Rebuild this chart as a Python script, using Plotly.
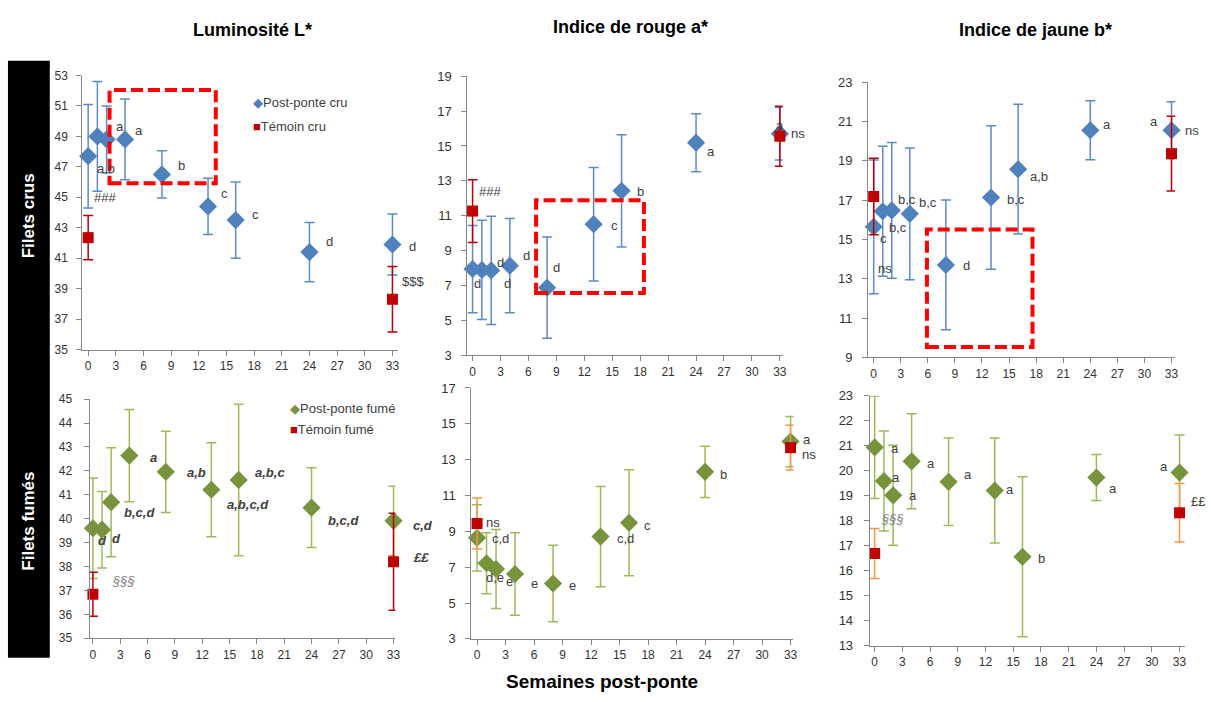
import plotly.graph_objects as go

W, H = 1211, 702

# ---------------- data ----------------
weeks = [0, 1, 2, 4, 8, 13, 16, 24, 33]
ctrl_weeks = [0, 33]
x_ticks = [0, 3, 6, 9, 12, 15, 18, 21, 24, 27, 30, 33]

# Filets crus
L_cru = [47.7, 49.0, 48.8, 48.8, 46.5, 44.4, 43.5, 41.4, 41.9]
L_cru_err = [3.4, 3.6, 2.2, 2.65, 1.55, 1.85, 2.5, 1.95, 2.0]
L_cru_ctrl = [42.35, 38.3]
L_cru_ctrl_err = [1.45, 2.15]

a_cru = [7.95, 7.9, 7.87, 8.14, 6.88, 10.52, 12.43, 15.19, 15.7]
a_cru_err = [2.5, 2.85, 3.1, 2.7, 2.9, 3.25, 3.22, 1.66, 1.5]
a_cru_ctrl = [11.27, 15.56]
a_cru_ctrl_err = [1.8, 1.72]

b_cru = [15.64, 16.43, 16.47, 16.3, 13.7, 17.13, 18.57, 20.55, 20.55]
b_cru_err = [3.4, 3.3, 3.45, 3.35, 3.3, 3.65, 3.3, 1.5, 1.45]
b_cru_ctrl = [17.18, 19.36]
b_cru_ctrl_err = [1.95, 1.9]

# Filets fumés
L_fume = [39.6, 39.54, 40.69, 42.64, 41.96, 41.21, 41.62, 40.46, 39.91]
L_fume_err = [2.1, 1.6, 2.28, 1.93, 1.7, 1.97, 3.17, 1.67, 1.45]
L_fume_ctrl = [36.84, 38.2]
L_fume_ctrl_err = [0.92, 2.03]

a_fume = [8.64, 7.22, 6.9, 6.62, 6.09, 8.71, 9.48, 12.32, 14.01]
a_fume_err = [1.85, 1.7, 2.2, 2.3, 2.13, 2.8, 2.96, 1.43, 1.4]
a_fume_ctrl = [9.44, 13.67]
a_fume_ctrl_err = [1.42, 1.25]

b_fume = [20.94, 19.59, 19.02, 20.38, 19.56, 19.21, 16.56, 19.73, 19.93]
b_fume_err = [2.05, 2.0, 2.0, 1.9, 1.75, 2.1, 3.2, 0.92, 1.5]
b_fume_ctrl = [16.69, 18.32]
b_fume_ctrl_err = [1.0, 1.17]

# significance letters (text, week, value)
lab_L_cru = [("a,b", 1.97, 46.9), ("a", 3.4, 49.68), ("a", 5.49, 49.4), ("b", 10.17, 47.1),
             ("c", 14.74, 45.22), ("c", 18.1, 43.9), ("d", 26.16, 42.07), ("d", 35.15, 41.8),
             ("###", 1.8, 44.97), ("$$$", 35.26, 39.5)]
lab_a_cru = [("###", 1.9, 12.4), ("d", 0.5, 7.1), ("d", 3.0, 8.34), ("d", 3.7, 7.1),
             ("d", 5.83, 8.75), ("d", 8.96, 8.04), ("c", 15.2, 10.43), ("b", 18.05, 12.4),
             ("a", 33.0, 16.2), ("a", 25.6, 14.67), ("ns", 34.9, 15.7)]
lab_b_cru = [("c", 1.04, 15.06), ("ns", 1.2, 13.5), ("b,c", 2.7, 15.6), ("b,c", 3.7, 17.04),
             ("b,c", 6.0, 16.9), ("d", 10.24, 13.65), ("b,c", 15.77, 17.04), ("a,b", 18.28, 18.2),
             ("a", 25.9, 20.85), ("a", 31.05, 21.0), ("ns", 35.3, 20.55)]
lab_L_fume = [("d", 1.1, 39.09), ("d", 2.56, 39.16), ("b,c,d", 5.06, 40.25), ("a", 6.6, 42.57),
              ("a,b", 11.36, 41.92), ("a,b,c,d", 17.05, 40.6), ("a,b,c", 19.4, 41.92),
              ("b,c,d", 27.5, 39.94), ("c,d", 36.2, 39.7), ("££", 36.0, 38.37), ("§§§", 3.4, 37.43)]
lab_a_fume = [("ns", 1.7, 9.5), ("c,d", 2.5, 8.62), ("d,e", 1.85, 6.4), ("e", 3.43, 6.22),
              ("e", 6.05, 6.08), ("e", 10.06, 5.98), ("c,d", 15.64, 8.59), ("c", 17.9, 9.32),
              ("b", 25.95, 12.17), ("a", 34.7, 14.1), ("ns", 34.96, 13.3)]
lab_b_fume = [("a", 2.16, 20.91), ("a", 2.34, 19.73), ("a", 4.15, 19.02), ("a", 6.12, 20.31),
              ("§§§", 1.9, 18.1), ("a", 10.15, 19.85), ("a", 14.65, 19.24), ("b", 18.1, 16.5),
              ("a", 25.75, 19.28), ("a", 31.3, 20.18), ("££", 35.0, 18.78)]

# highlighted windows (weeks, value)
box_L = (2.32, 13.84, 45.93, 52.04)
box_a = (6.82, 18.4, 6.57, 11.89)
box_b = (5.9, 17.6, 9.52, 15.5)

# ---------------- styling / layout ----------------
BLUE, BLUE_E = "#4F81BD", "#5B8CC8"
GREEN, GREEN_E = "#77933C", "#9BBB59"
RED = "#C00000"
ORANGE = "#F79646"
AXC = "#868686"
TXT = "#404040"
FONT = "Liberation Sans, Arial, sans-serif"

panels = [
    dict(px=(82.7, 400), py=(70, 350), xr=(-0.63, 33.64), yr=(35, 53), dt=2,
         s=L_cru, se=L_cru_err, c=L_cru_ctrl, ce=L_cru_ctrl_err, mc=BLUE, ec=BLUE_E, cec=RED,
         labs=lab_L_cru, italic=False, box=box_L, standoff=6, yfs=12),
    dict(px=(469.3, 785.9), py=(70.7, 356), xr=(-0.56, 33.3), yr=(3, 19), dt=2,
         s=a_cru, se=a_cru_err, c=a_cru_ctrl, ce=a_cru_ctrl_err, mc=BLUE, ec=BLUE_E, cec=RED,
         labs=lab_a_cru, italic=False, box=box_a, standoff=7, yfs=13),
    dict(px=(871.7, 1180), py=(76.7, 358), xr=(-0.62, 33.4), yr=(9, 23), dt=2,
         s=b_cru, se=b_cru_err, c=b_cru_ctrl, ce=b_cru_ctrl_err, mc=BLUE, ec=BLUE_E, cec=RED,
         labs=lab_b_cru, italic=False, box=box_b, standoff=7, yfs=13),
    dict(px=(90, 397), py=(400.7, 645), xr=(-0.36, 33.2), yr=(35, 45), dt=1,
         s=L_fume, se=L_fume_err, c=L_fume_ctrl, ce=L_fume_ctrl_err, mc=GREEN, ec=GREEN_E, cec=RED,
         labs=lab_L_fume, italic=True, box=None, standoff=9, yfs=12),
    dict(px=(473.3, 796.7), py=(389.3, 645.7), xr=(-0.6, 33.3), yr=(3, 17), dt=2,
         s=a_fume, se=a_fume_err, c=a_fume_ctrl, ce=a_fume_ctrl_err, mc=GREEN, ec=GREEN_E, cec=ORANGE,
         labs=lab_a_fume, italic=False, box=None, standoff=7, yfs=13),
    dict(px=(873.3, 1190), py=(397.3, 652.7), xr=(-0.54, 33.6), yr=(13, 23), dt=1,
         s=b_fume, se=b_fume_err, c=b_fume_ctrl, ce=b_fume_ctrl_err, mc=GREEN, ec=GREEN_E, cec=ORANGE,
         labs=lab_b_fume, italic=False, box=None, standoff=8, yfs=13),
]

fig = go.Figure()
annotations = []
shapes = []
layout_axes = {}

for i, p in enumerate(panels, start=1):
    sfx = "" if i == 1 else str(i)
    xa, ya = "x" + sfx, "y" + sfx
    fig.add_trace(go.Scatter(
        x=weeks, y=p["s"], mode="markers", xaxis=xa, yaxis=ya, showlegend=False,
        marker=dict(symbol="diamond", size=14, color=p["mc"], line=dict(width=0)),
        error_y=dict(type="data", array=p["se"], visible=True, color=p["ec"], thickness=1.5, width=5),
        cliponaxis=False))
    fig.add_trace(go.Scatter(
        x=ctrl_weeks, y=p["c"], mode="markers", xaxis=xa, yaxis=ya, showlegend=False,
        marker=dict(symbol="square", size=11, color=RED, line=dict(width=0)),
        error_y=dict(type="data", array=p["ce"], visible=True, color=p["cec"], thickness=1.5, width=5),
        cliponaxis=False))

    xr0, xr1 = p["xr"]
    yr0, yr1 = p["yr"]
    # significance letters: annotations placed relative to the axis domains so that
    # the ones sitting past the end of the x axis stay visible
    for (t, xv, yv) in p["labs"]:
        if t.startswith("§"):
            txt, col = "<i>%s</i>" % t, "#808080"
        elif p["italic"]:
            txt, col = "<b><i>%s</i></b>" % t, TXT
        else:
            txt, col = t, TXT
        annotations.append(dict(
            x=(xv - xr0) / (xr1 - xr0), y=(yv - yr0) / (yr1 - yr0),
            xref=xa + " domain", yref=ya + " domain", text=txt, showarrow=False,
            xanchor="center", yanchor="middle", font=dict(family=FONT, size=13, color=col)))

    x0, x1 = p["px"]
    yt, yb = p["py"]
    layout_axes["xaxis" + sfx] = dict(
        domain=[x0 / W, x1 / W], range=list(p["xr"]), anchor=ya,
        tickmode="array", tickvals=x_ticks, ticks="outside", ticklen=5, tickcolor=AXC,
        showline=True, linecolor=AXC, linewidth=1, showgrid=False, zeroline=False,
        tickfont=dict(family=FONT, size=12, color="#333333"))
    layout_axes["yaxis" + sfx] = dict(
        domain=[1 - yb / H, 1 - yt / H], range=list(p["yr"]), anchor=xa,
        tickmode="linear", tick0=p["yr"][0], dtick=p["dt"], ticks="outside", ticklen=5, tickcolor=AXC,
        showline=True, linecolor=AXC, linewidth=1, showgrid=False, zeroline=False,
        ticklabelstandoff=p["standoff"],
        tickfont=dict(family=FONT, size=p["yfs"], color="#333333"))

    if p["box"] is not None:
        bx0, bx1, by0, by1 = p["box"]
        shapes.append(dict(type="rect", xref=xa, yref=ya, x0=bx0, x1=bx1, y0=by0, y1=by1,
                           line=dict(color="#FF0000", width=4, dash="12px,5px"),
                           fillcolor="rgba(0,0,0,0)", layer="above"))

# black side band
shapes.append(dict(type="rect", xref="paper", yref="paper", x0=8 / W, x1=50 / W,
                   y0=1 - 665 / H, y1=1 - 55 / H, fillcolor="black", line=dict(width=0),
                   layer="below"))


def pa(x, y, text, size, color="black", angle=0, xanchor="center"):
    annotations.append(dict(x=x / W, y=1 - y / H, xref="paper", yref="paper", text=text,
                            showarrow=False, textangle=angle, xanchor=xanchor, yanchor="middle",
                            font=dict(family=FONT, size=size, color=color)))


pa(29, 213, "<b>Filets crus</b>", 17, "white", angle=-90)
pa(29, 525, "<b>Filets fumés</b>", 17, "white", angle=-90)
pa(254, 24, "<b>Luminosité L*</b>", 18)
pa(633, 20, "<b>Indice de rouge a*</b>", 18)
pa(1040, 24, "<b>Indice de jaune b*</b>", 18)
pa(604, 689, "<b>Semaines post-ponte</b>", 19)

# legends
pa(252, 98, "<span style='color:%s'>◆</span>Post-ponte cru" % BLUE, 13, TXT, xanchor="left")
pa(252, 122, "<span style='color:%s'>■</span>Témoin cru" % RED, 13, TXT, xanchor="left")
pa(289, 410, "<span style='color:%s'>◆</span>Post-ponte fumé" % GREEN, 13, TXT, xanchor="left")
pa(289, 432, "<span style='color:%s'>■</span>Témoin fumé" % RED, 13, TXT, xanchor="left")

fig.update_layout(
    width=W, height=H, margin=dict(l=0, r=0, t=0, b=0),
    paper_bgcolor="white", plot_bgcolor="white", showlegend=False,
    annotations=annotations, shapes=shapes, **layout_axes)

fig.write_html("out.html", config={"displayModeBar": False},
               post_script="document.body.style.margin='0';")
